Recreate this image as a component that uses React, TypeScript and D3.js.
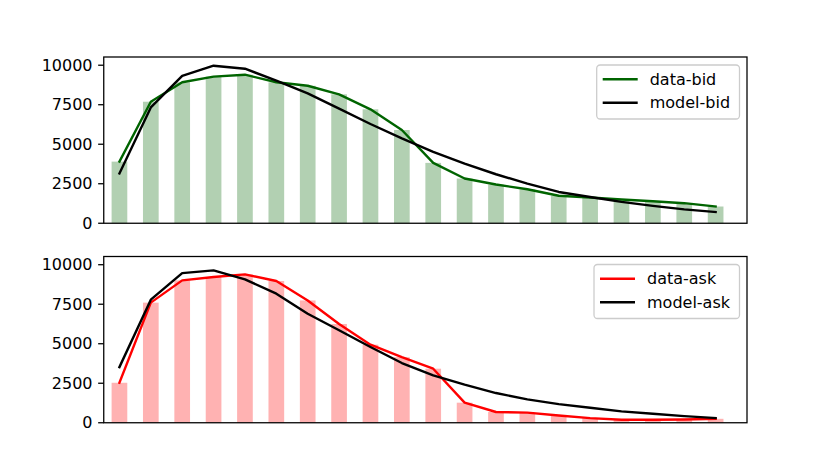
import React from "react";
import * as d3 from "d3";

const positions = d3.range(20);
const bidData = [3900, 7690, 8920, 9280, 9400, 8920, 8700, 8160, 7210, 5900, 3820, 2830, 2450, 2150, 1740, 1630, 1500, 1390, 1270, 1060];
const bidModel = [3150, 7330, 9330, 9970, 9780, 9030, 8220, 7250, 6280, 5370, 4520, 3780, 3100, 2510, 1980, 1660, 1350, 1100, 880, 710];
const askData = [2530, 7600, 9010, 9220, 9390, 8970, 7740, 6250, 4940, 4150, 3420, 1270, 680, 640, 460, 290, 190, 190, 210, 250];
const askModel = [3520, 7790, 9470, 9640, 9070, 8170, 6900, 5850, 4790, 3780, 3000, 2410, 1880, 1480, 1180, 950, 720, 570, 420, 300];
const yTicks = [0, 2500, 5000, 7500, 10000];

const W = 830, H = 475;
const left = 103.75, right = 747;
const FONT = "'DejaVu Sans', sans-serif";
const FS = 16;
const LW = 2.4;
const SW = 1.28;
const TL = 5.6;

type PanelProps = {
  top: number; bottom: number; data: number[]; model: number[];
  barColor: string; lineColor: string; dataLabel: string; modelLabel: string; legendX: number;
};

function Panel({ top, bottom, data, model, barColor, lineColor, dataLabel, modelLabel, legendX }: PanelProps) {
  const x = d3.scaleLinear().domain([-0.5, 20]).range([left, right]);
  const y = d3.scaleLinear().domain([0, 10520]).range([bottom, top]);
  const bw = x(0.5) - x(0);
  const line = d3.line<number>().x((_, i) => x(positions[i])).y((v) => y(v));
  const lx = legendX, ly = top + 8, lw = 739.5 - legendX, lh = 54;
  return (
    <g>
      {data.map((v, i) => (
        <rect key={i} x={x(positions[i]) - bw / 2} y={y(v)} width={bw} height={y(0) - y(v)} fill={barColor} fillOpacity={0.3} />
      ))}
      <path d={line(data) || ""} fill="none" stroke={lineColor} strokeWidth={LW} strokeLinejoin="round" strokeLinecap="square" />
      <path d={line(model) || ""} fill="none" stroke="#000" strokeWidth={LW} strokeLinejoin="round" strokeLinecap="square" />
      <rect x={left} y={top} width={right - left} height={bottom - top} fill="none" stroke="#000" strokeWidth={SW} />
      {yTicks.map((t) => (
        <g key={t}>
          <line x1={left - TL} x2={left} y1={y(t)} y2={y(t)} stroke="#000" strokeWidth={SW} />
          <text x={left - TL - 5.6} y={y(t)} dy="0.35em" textAnchor="end" fontFamily={FONT} fontSize={FS} fill="#000">{t}</text>
        </g>
      ))}
      <rect x={lx} y={ly} width={lw} height={lh} rx={3.5} ry={3.5} fill="#fff" fillOpacity={0.8} stroke="#cccccc" strokeWidth={SW} />
      <line x1={lx + 6} x2={lx + 41} y1={ly + 14.3} y2={ly + 14.3} stroke={lineColor} strokeWidth={LW} />
      <text x={lx + 53} y={ly + 14.3} dy="0.35em" fontFamily={FONT} fontSize={FS} fill="#000">{dataLabel}</text>
      <line x1={lx + 6} x2={lx + 41} y1={ly + 37.7} y2={ly + 37.7} stroke="#000" strokeWidth={LW} />
      <text x={lx + 53} y={ly + 37.7} dy="0.35em" fontFamily={FONT} fontSize={FS} fill="#000">{modelLabel}</text>
    </g>
  );
}

export default function App() {
  return (
    <div style={{ position: "absolute", left: 0, top: 0 }}>
      <svg width={W} height={H} style={{ display: "block", background: "#fff" }}>
        <Panel top={57} bottom={223.25} data={bidData} model={bidModel} barColor="#006400" lineColor="#006400" dataLabel="data-bid" modelLabel="model-bid" legendX={596.7} />
        <Panel top={256.5} bottom={422.75} data={askData} model={askModel} barColor="#ff0000" lineColor="#ff0000" dataLabel="data-ask" modelLabel="model-ask" legendX={594} />
      </svg>
    </div>
  );
}
